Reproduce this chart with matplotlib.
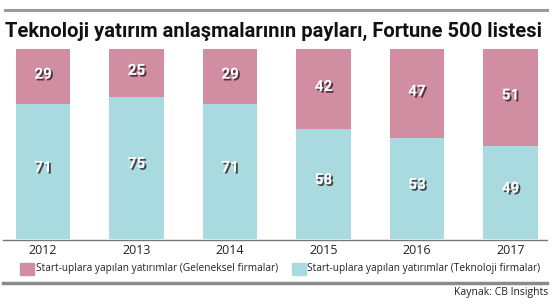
import matplotlib
matplotlib.use("Agg")
import matplotlib.pyplot as plt
import matplotlib.patheffects as pe
from matplotlib.lines import Line2D
from matplotlib.patches import Rectangle

# ---- data ----
years = ["2012", "2013", "2014", "2015", "2016", "2017"]
tech = [71, 75, 71, 58, 53, 49]          # Teknoloji firmalar
trad = [29, 25, 29, 42, 47, 51]          # Geleneksel firmalar
title = "Teknoloji yatırım anlaşmalarının payları, Fortune 500 listesi"
leg_trad = "Start-uplara yapılan yatırımlar (Geleneksel firmalar)"
leg_tech = "Start-uplara yapılan yatırımlar (Teknoloji firmalar)"
source = "Kaynak: CB Insights"

pink = "#d18ea2"
teal = "#a8dadf"
W, H = 555, 304

fig = plt.figure(figsize=(W / 100, H / 100), dpi=100)

def fx(px):
    return px / W

def fy(py):
    return 1 - py / H

# axes: bars from y=49 to y=239, bar centers at 43 + 93.5*i
x0, step = 43, 93.5
ax = fig.add_axes([0, fy(239), 1, fy(49) - fy(239)])
ax.set_xlim(-x0 / step, (W - x0) / step)
ax.set_ylim(0, 100)
ax.axis("off")

xs = list(range(len(years)))
ax.bar(xs, tech, width=0.585, color=teal)
ax.bar(xs, trad, width=0.585, bottom=tech, color=pink)

shadow = [pe.SimplePatchShadow(offset=(1.3, -1.3), shadow_rgbFace="#2a1e22", alpha=0.8), pe.Normal()]
for i in xs:
    ax.text(i, tech[i] / 2 + 2, str(tech[i]), ha="center", va="center", color="white",
            fontsize=11, fontweight="bold", family="Roboto", path_effects=shadow)
    ax.text(i, tech[i] + trad[i] / 2 + 1, str(trad[i]), ha="center", va="center", color="white",
            fontsize=11, fontweight="bold", family="Roboto", path_effects=shadow)
    fig.text(fx(x0 + step * i), fy(251), years[i], ha="center", va="center",
             fontsize=9, color="#222222", family="Open Sans")

# rules
fig.add_artist(Line2D([fx(5), fx(547)], [fy(10), fy(10)], color="#9a9a9a", lw=2.2))
fig.add_artist(Line2D([fx(3), fx(547)], [fy(240), fy(240)], color="#777777", lw=1))
fig.add_artist(Line2D([fx(3), fx(547)], [fy(283), fy(283)], color="#8a8a8a", lw=2.5))

# title, shrunk to fit the 5..546 px span
t = fig.text(fx(5), fy(31), title, ha="left", va="center", fontsize=15,
             fontweight="bold", family="Roboto", color="#111111")
r = fig.canvas.get_renderer()
wpx = t.get_window_extent(r).width
t.set_fontsize(15 * 541 / wpx)

# legend
fig.add_artist(Rectangle((fx(20), fy(275)), fx(14), fy(263) - fy(275), color=pink, transform=fig.transFigure))
fig.text(fx(36), fy(269), leg_trad, ha="left", va="center", fontsize=7.3, color="#222222", family="Open Sans")
fig.add_artist(Rectangle((fx(292), fy(275)), fx(14), fy(263) - fy(275), color=teal, transform=fig.transFigure))
fig.text(fx(307), fy(269), leg_tech, ha="left", va="center", fontsize=7.3, color="#222222", family="Open Sans")

fig.text(fx(548), fy(293), source, ha="right", va="center", fontsize=7.5, color="#222222", family="Open Sans")

fig.savefig("out.png", dpi=100)
